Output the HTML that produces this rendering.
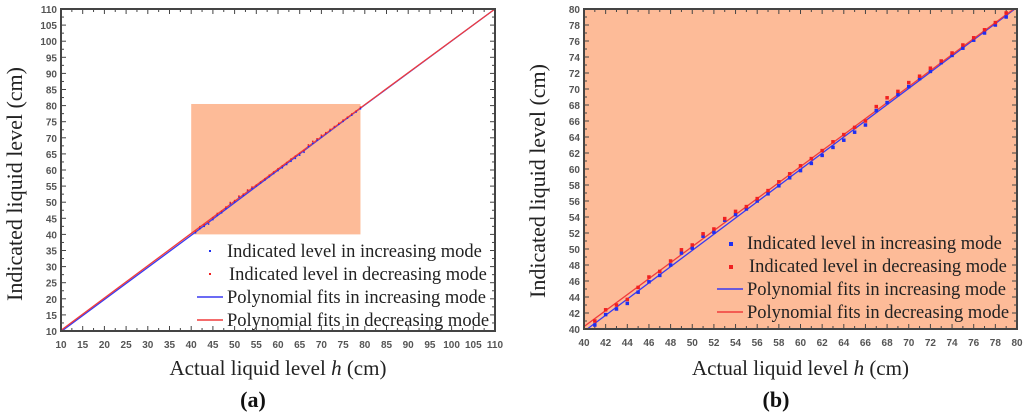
<!DOCTYPE html>
<html><head><meta charset="utf-8"><style>
html,body{margin:0;padding:0;background:#fff;width:1024px;height:420px;overflow:hidden}
svg{display:block;overflow:hidden}
.tk{font-family:"Liberation Sans",sans-serif;font-size:10px;fill:#555;font-weight:bold}
.lbl{font-family:"Liberation Serif",serif;font-size:21px;fill:#222}
.lg{font-family:"Liberation Serif",serif;font-size:18.5px;fill:#222}
</style></head><body>
<svg id="c" width="1024" height="420" viewBox="0 0 1024 420"></svg>
<script>
const incX=[41,42,43,44,45,46,47,48,49,50,51,52,53,54,55,56,57,58,59,60,61,62,63,64,65,66,67,68,69,70,71,72,73,74,75,76,77,78,79];
const incY=[40.5,41.8,42.5,43.2,44.6,45.9,46.7,48.0,49.5,50.1,51.6,52.1,53.6,54.3,55.0,56.0,56.9,57.9,58.9,59.8,60.7,61.7,62.7,63.6,64.6,65.5,67.3,68.3,69.3,70.3,71.3,72.2,73.3,74.2,75.1,76.1,77.0,78.0,79.0];
const decY=[41.0,42.4,43.0,43.7,45.2,46.5,47.2,48.5,49.9,50.5,51.9,52.5,53.8,54.7,55.3,56.3,57.3,58.4,59.4,60.4,61.3,62.3,63.4,64.3,65.2,66.0,67.8,68.9,69.7,70.8,71.6,72.6,73.5,74.5,75.5,76.4,77.4,78.3,79.5];
const fitIncX=[10,40.3,79.8,110];
const fitIncY=[9.8,40,80,110];
const fitDecX=[10,40,79.7,110];
const fitDecY=[10.2,40.3,80,110];
const ticksA=[10,15,20,25,30,35,40,45,50,55,60,65,70,75,80,85,90,95,100,105,110];
const ticksB=[40,42,44,46,48,50,52,54,56,58,60,62,64,66,68,70,72,74,76,78,80];
const zoomBox=[40,79,40,80.5];
const legendLabels=["Indicated level in increasing mode","Indicated level in decreasing mode","Polynomial fits in increasing mode","Polynomial fits in decreasing mode"];
const NS="http://www.w3.org/2000/svg",svg=document.getElementById('c');
function mk(t,a,p){const e=document.createElementNS(NS,t);for(const k in a)e.setAttribute(k,a[k]);(p||svg).appendChild(e);return e;}
let cid=0;
function panel(o){
  const g=mk('g',{});
  
  
  const sx=v=>o.x0+(v-o.min)/(o.max-o.min)*(o.x1-o.x0);
  const sy=v=>o.y1-(v-o.min)/(o.max-o.min)*(o.y1-o.y0);
  const id='clip'+(cid++);
  const cp=mk('clipPath',{id:id},g);
  mk('rect',{x:o.x0,y:o.y0,width:o.x1-o.x0,height:o.y1-o.y0},cp);
  if(o.bg){const r=mk('rect',{x:o.x0,y:o.y0,width:o.x1-o.x0,height:o.y1-o.y0,fill:'#fdbb98'},g);
    }
  if(o.box){const r=mk('rect',{x:sx(o.box[0]),y:sy(o.box[3]),width:sx(o.box[1])-sx(o.box[0]),height:sy(o.box[2])-sy(o.box[3]),fill:'#fdbb98'},g);
    }
  const step=(o.ticks[1]-o.ticks[0])/2;
  for(let v=o.min;v<=o.max+1e-9;v+=step){
    const major=o.ticks.some(t=>Math.abs(t-v)<1e-6),L=major?5:3;
    mk('line',{x1:sx(v),x2:sx(v),y1:o.y1,y2:o.y1-L,stroke:'#444'},g);
    mk('line',{x1:sx(v),x2:sx(v),y1:o.y0,y2:o.y0+L,stroke:'#444'},g);
    mk('line',{x1:o.x0,x2:o.x0+L,y1:sy(v),y2:sy(v),stroke:'#444'},g);
    mk('line',{x1:o.x1,x2:o.x1-L,y1:sy(v),y2:sy(v),stroke:'#444'},g);
  }
  o.ticks.forEach(t=>{
    const a=mk('text',{x:sx(t),y:o.y1+17,'text-anchor':'middle',class:'tk'},g);a.textContent=t;
    
    const b=mk('text',{x:o.x0-4,y:sy(t)+4,'text-anchor':'end',class:'tk'},g);b.textContent=t;
    
  });
  const pg=mk('g',{'clip-path':`url(#${id})`},g);
  const inR=v=>v>=o.min-0.5&&v<=o.max+0.5;
  const pts=(X,Y)=>X.map((x,i)=>[x,Y[i]]).filter(p=>inR(p[0])&&inR(p[1])).map(p=>sx(p[0])+','+sy(p[1])).join(' ');
  const l1=mk('polyline',{points:pts(fitIncX,fitIncY),fill:'none',stroke:'#3a3af0','stroke-width':1.3},pg);
  
  const l2=mk('polyline',{points:pts(fitDecX,fitDecY),fill:'none',stroke:'#f03c3c','stroke-width':1.3},pg);
  
  incX.forEach((x,i)=>{
    if(x<o.min||x>o.max)return;
    const a=mk('rect',{x:sx(x)-o.ps/2,y:sy(incY[i])-o.ps/2,width:o.ps,height:o.ps,fill:'#1f2ff0'},pg);
    
    const b=mk('rect',{x:sx(x)-o.ps/2,y:sy(decY[i])-o.ps/2,width:o.ps,height:o.ps,fill:'#f02020'},pg);
    
  });
  const f=mk('rect',{x:o.x0,y:o.y0,width:o.x1-o.x0,height:o.y1-o.y0,fill:'none',stroke:'#444','stroke-width':2},g);
  
  const cx=(o.x0+o.x1)/2;
  const xl=mk('text',{x:cx,y:375,'text-anchor':'middle',class:'lbl'},g);
  xl.innerHTML='Actual liquid level <tspan font-style="italic">h</tspan> (cm)';
  
  const yc=o.ylc;
  const yl=mk('text',{x:o.ylx,y:yc,'text-anchor':'middle',class:'lbl',style:'font-size:22px',transform:`rotate(-90 ${o.ylx} ${yc})`},g);
  yl.textContent='Indicated liquid level (cm)';
  
  const cap=mk('text',{x:o.capx,y:407,'text-anchor':'middle','font-family':'"Liberation Serif",serif','font-size':'22px','font-weight':'bold',fill:'#111'},g);
  cap.textContent=o.cap;
  legendLabels.forEach((s,i)=>{
    const y=o.lgy+i*23;
    if(i<2){const m=mk('rect',{x:o.lgx+12,y:y-7,width:o.ps+0.5,height:o.ps+0.5,fill:i?'#f02020':'#1f2ff0'},g);
      }
    else{const m=mk('line',{x1:o.lgx,x2:o.lgx+26,y1:y-6,y2:y-6,stroke:i==2?'#3a3af0':'#f03c3c','stroke-width':1.5},g);
      }
    const t=mk('text',{x:o.lgx+30+(i==1?2:0),y:y,class:'lg'},g);t.textContent=s;
    
  });
}
panel({name:'chart-a',x0:61,x1:495,y0:9,y1:331,min:10,max:110,ticks:ticksA,box:zoomBox,ps:1.5,ylx:22,ylc:184,capx:253,cap:'(a)',lgx:197,lgy:257});
panel({name:'chart-b',x0:584,x1:1017,y0:9,y1:329,min:40,max:80,ticks:ticksB,bg:true,ps:3.5,ylx:545,ylc:181,capx:776,cap:'(b)',lgx:717,lgy:249});
</script>
</body></html>
